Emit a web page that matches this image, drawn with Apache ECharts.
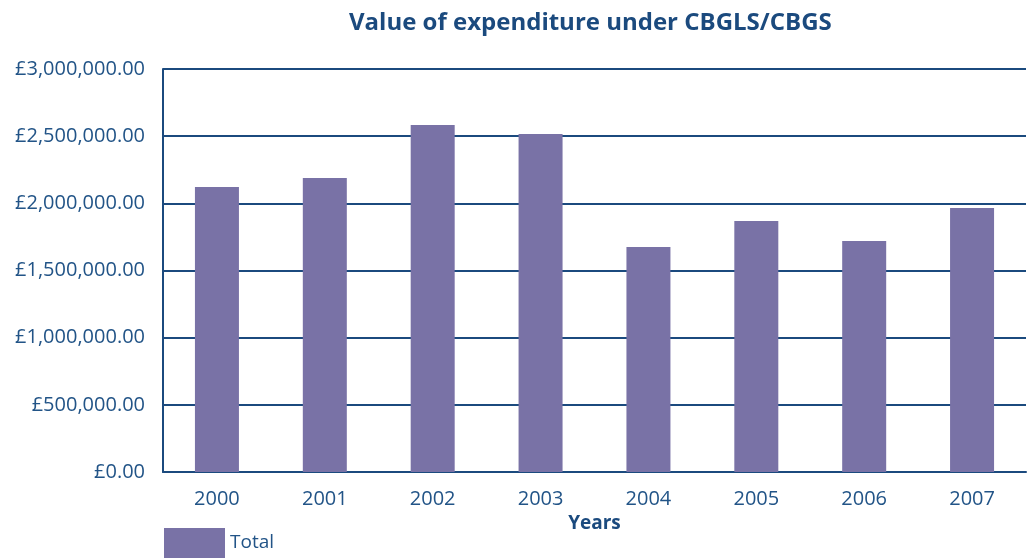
<!DOCTYPE html>
<html>
<head>
<meta charset="utf-8">
<script src="https://cdn.jsdelivr.net/npm/echarts@6/dist/echarts.min.js"></script>
<style>
  html, body { margin: 0; padding: 0; background: #fff; }
  #chart { width: 1027px; height: 558px; }
</style>
</head>
<body>
<div id="chart"></div>
<script>
const years = ['2000', '2001', '2002', '2003', '2004', '2005', '2006', '2007']
const totals = [2122000, 2189000, 2583000, 2516000, 1675000, 1868000, 1720000, 1965000]

const axisBlue = '#1b4a7e'
const textBlue = '#225487'
const barPurple = '#7972a6'

function money (v) {
  const parts = v.toFixed(2).split('.')
  parts[0] = parts[0].replace(/\B(?=(\d{3})+(?!\d))/g, ',')
  return '£' + parts.join('.')
}

const chart = echarts.init(document.getElementById('chart'))
chart.setOption({
  animation: false,
  textStyle: { fontFamily: 'Open Sans' },
  title: {
    text: 'Value of expenditure under CBGLS/CBGS',
    left: 344,
    top: 6,
    textStyle: { fontSize: 24, fontWeight: 'bold', color: '#1b4a7e', fontFamily: 'Open Sans' }
  },
  grid: { left: 163, right: 1, top: 69, bottom: 86 },
  legend: {
    data: ['Total'],
    left: 159,
    top: 523,
    icon: 'rect',
    itemWidth: 61,
    itemHeight: 30,
    itemGap: 8,
    textStyle: { fontSize: 19, color: textBlue, fontFamily: 'Open Sans' }
  },
  xAxis: {
    type: 'category',
    data: years,
    name: 'Years',
    nameLocation: 'middle',
    nameGap: 40,
    nameTextStyle: { fontSize: 19, fontWeight: 'bold', color: axisBlue },
    axisLine: { lineStyle: { color: axisBlue, width: 2 } },
    axisTick: { inside: true, length: 10, lineStyle: { color: axisBlue, width: 2 } },
    axisLabel: { fontSize: 20, color: textBlue, margin: 17 }
  },
  yAxis: {
    type: 'value',
    min: 0,
    max: 3000000,
    interval: 500000,
    axisLine: { show: true, lineStyle: { color: axisBlue, width: 2 } },
    axisTick: { show: false },
    splitLine: { lineStyle: { color: axisBlue, width: 2 } },
    axisLabel: { fontSize: 20, color: textBlue, margin: 18, formatter: money }
  },
  series: [
    {
      name: 'Total',
      type: 'bar',
      data: totals,
      barWidth: 44,
      itemStyle: { color: barPurple }
    }
  ]
})
</script>
</body>
</html>
